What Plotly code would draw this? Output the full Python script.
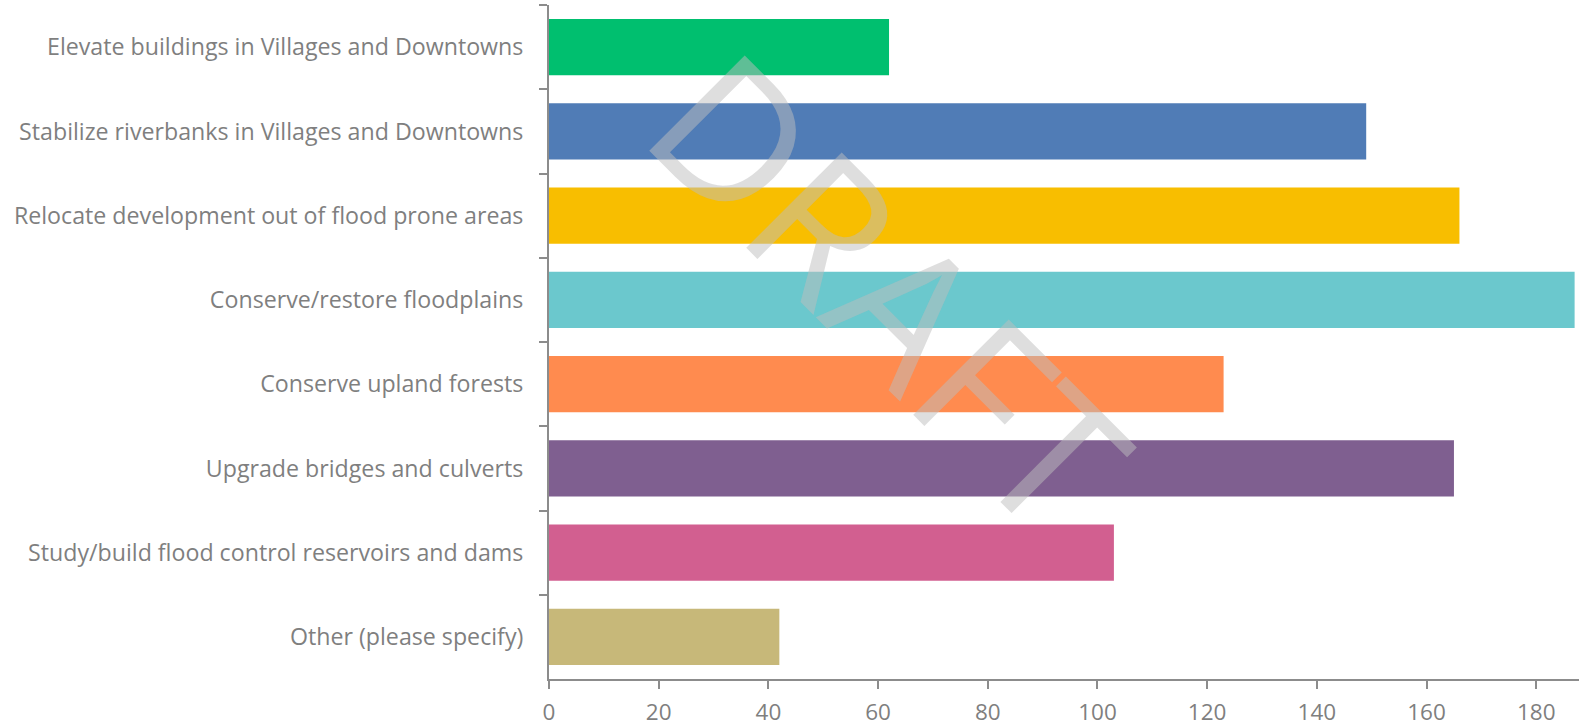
import plotly.graph_objects as go

categories = [
    "Elevate buildings in Villages and Downtowns",
    "Stabilize riverbanks in Villages and Downtowns",
    "Relocate development out of flood prone areas",
    "Conserve/restore floodplains",
    "Conserve upland forests",
    "Upgrade bridges and culverts",
    "Study/build flood control reservoirs and dams",
    "Other (please specify)",
]
values = [62, 149, 166, 187, 123, 165, 103, 42]
colors = ["#00BF6F", "#507CB6", "#F8BE00", "#6BC8CD", "#FF8B4F", "#7F5F90", "#D25F90", "#C7B879"]
x_ticks = [0, 20, 40, 60, 80, 100, 120, 140, 160, 180]

FONT = "Open Sans"
GREY = "#7f7f7f"
AXIS = "#8c8c8c"

fig = go.Figure(go.Bar(
    x=values, y=categories, orientation="h",
    marker=dict(color=colors, line=dict(width=0)),
    hoverinfo="x+y",
))

fig.update_layout(
    template="none",
    width=1579, height=727,
    margin=dict(l=549, r=0, t=5, b=48, autoexpand=False),
    paper_bgcolor="white", plot_bgcolor="white",
    bargap=0.33,
    showlegend=False,
    font=dict(family=FONT, size=20, color=GREY),
)
fig.update_xaxes(
    range=[0, 187.8], tickvals=x_ticks, showgrid=False, zeroline=False,
    showline=True, linecolor=AXIS, linewidth=2, automargin=False,
    ticks="outside", ticklen=8, tickwidth=2, tickcolor=AXIS,
    tickfont=dict(family=FONT, size=22.5, color=GREY),
    ticklabelstandoff=4,
)
fig.update_yaxes(
    autorange="reversed", showgrid=False, zeroline=False,
    showline=True, linecolor=AXIS, linewidth=2, automargin=False,
    ticks="outside", tickson="boundaries", ticklen=8, tickwidth=2, tickcolor=AXIS,
    tickfont=dict(family=FONT, size=23.2, color=GREY),
    ticklabelstandoff=19,
)
fig.add_annotation(
    text="DRAFT", xref="paper", yref="paper", x=0.333, y=0.578,
    xanchor="center", yanchor="middle",
    showarrow=False, textangle=45,
    font=dict(family=FONT, size=189, color="rgba(190,190,190,0.5)"),
)

fig.write_html(
    "out.html",
    config={"displayModeBar": False},
    post_script="document.body.style.margin='0';document.body.style.padding='0';",
)
